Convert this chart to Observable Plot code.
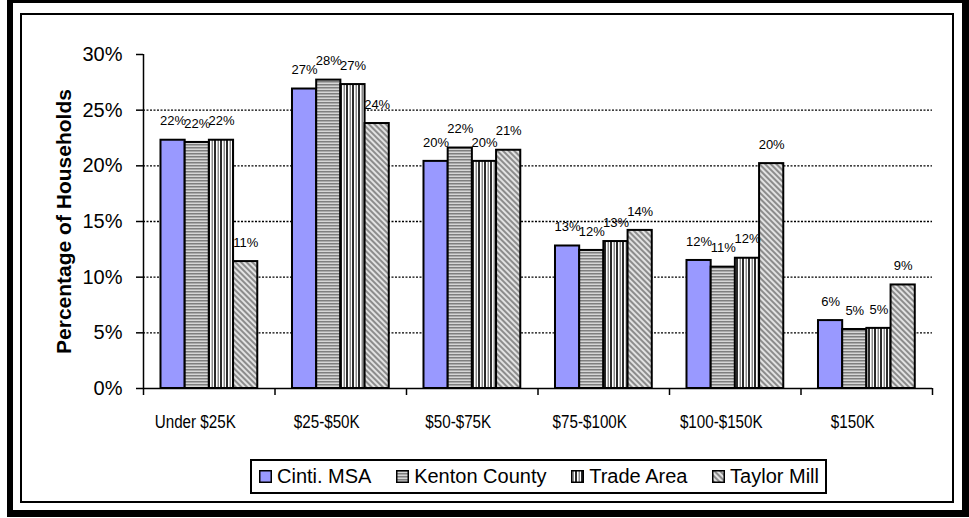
<!DOCTYPE html>
<html><head><meta charset="utf-8">
<script src="https://cdn.jsdelivr.net/npm/d3@7"></script>
<script src="https://cdn.jsdelivr.net/npm/@observablehq/plot@0.6"></script>
<style>
body{margin:0;background:#fff;font-family:Arial,"Liberation Sans",sans-serif;}
#wrap{position:relative;width:969px;height:518px;overflow:hidden;background:#fff;}
#outer{position:absolute;left:7px;top:-1px;width:962px;height:518px;border-style:solid;border-color:#000;border-width:4px 7px 7px 6px;box-sizing:border-box;}
#inner{position:absolute;left:20px;top:13px;width:934px;height:490px;border:2px solid #000;box-sizing:border-box;}
#chart{position:absolute;left:0;top:0;}
#legend{position:absolute;left:250px;top:459px;width:577px;height:35px;border:2px solid #000;box-sizing:border-box;display:flex;align-items:center;justify-content:space-between;padding:0 6px 0 7px;font-size:20px;color:#000;white-space:nowrap;}
#legend .item{display:flex;align-items:center;}
#legend svg{margin-right:5px;}
</style>
</head><body>
<svg width="0" height="0" style="position:absolute">
  <defs>
    <pattern id="pat-kenton" patternUnits="userSpaceOnUse" width="4" height="3">
      <rect width="4" height="3" fill="#d6d6d6"/>
      <rect width="4" height="1.5" fill="#7f7f7f"/>
    </pattern>
    <pattern id="pat-trade" patternUnits="userSpaceOnUse" width="6" height="4">
      <rect width="6" height="4" fill="#ffffff"/>
      <rect x="1.5" width="1.5" height="4" fill="#8a8a8a"/>
      <rect x="4" width="2" height="4" fill="#2a2a2a"/>
    </pattern>
    <pattern id="pat-taylor" patternUnits="userSpaceOnUse" width="4" height="4" patternTransform="rotate(-45)">
      <rect width="4" height="4" fill="#e2e2e2"/>
      <rect width="2" height="4" fill="#8c8c8c"/>
    </pattern>
  </defs>
</svg>
<div id="wrap">
  <div id="outer"></div>
  <div id="inner"></div>
  <div id="chart"></div>
  <div id="legend"></div>
</div>
<script>
const categories = ["Under $25K", "$25-$50K", "$50-$75K", "$75-$100K", "$100-$150K", "$150K"];
const seriesNames = ["Cinti. MSA", "Kenton County", "Trade Area", "Taylor Mill"];
const cintiMSA     = [22.3, 26.9, 20.4, 12.8, 11.5, 6.1];
const kentonCounty = [22.1, 27.7, 21.6, 12.4, 10.9, 5.3];
const tradeArea    = [22.3, 27.3, 20.4, 13.2, 11.7, 5.4];
const taylorMill   = [11.4, 23.8, 21.4, 14.2, 20.2, 9.3];
const yTicks = [0, 5, 10, 15, 20, 25, 30];
const gridValues = [5, 10, 15, 20, 25];
const yTitle = "Percentage of Households";

const seriesValues = [cintiMSA, kentonCounty, tradeArea, taylorMill];
const fills = ["#9999ff", "url(#pat-kenton)", "url(#pat-trade)", "url(#pat-taylor)"];

const GROUP_START = 0.133;
const BAR_W = 0.184;

const rows = [];
categories.forEach((c, ci) => {
  seriesNames.forEach((s, si) => {
    rows.push({category: c, ci, series: s, si, value: seriesValues[si][ci]});
  });
});
const catRows = categories.map((c, ci) => ({category: c, mid: ci + 0.5}));
const boundaries = d3.range(0, categories.length + 1);

const font = 'Arial, "Liberation Sans", sans-serif';

const barMarks = seriesNames.map((s, si) =>
  Plot.rect(rows.filter(d => d.si === si), {
    x1: d => d.ci + GROUP_START + d.si * BAR_W,
    x2: d => d.ci + GROUP_START + (d.si + 1) * BAR_W,
    y1: () => 0,
    y2: "value",
    fill: fills[si],
    stroke: "#000",
    strokeWidth: 2
  })
);

const chart = Plot.plot({
  width: 969,
  height: 450,
  marginLeft: 143,
  marginRight: 37,
  marginTop: 54,
  marginBottom: 62,
  x: {type: "linear", domain: [0, categories.length]},
  y: {type: "linear", domain: [0, 30]},
  style: {fontFamily: font, background: "transparent", color: "#000"},
  marks: [
    Plot.ruleY(gridValues, {stroke: "#000", strokeWidth: 1.3, strokeDasharray: "2,1.5"}),
    ...barMarks,
    Plot.text(rows, {
      x: d => d.ci + GROUP_START + (d.si + 0.5) * BAR_W,
      y: "value",
      text: d => Math.round(d.value) + "%",
      dy: -19,
      fontSize: 13,
      fill: "#000"
    }),
    Plot.ruleX([0], {stroke: "#000", strokeWidth: 1.5}),
    Plot.ruleY([0], {stroke: "#000", strokeWidth: 1.5}),
    Plot.axisX({ticks: boundaries, tickSize: 7, tickFormat: () => "", strokeWidth: 1.5, label: null}),
    Plot.text(catRows, {x: "mid", y: () => 0, text: "category", dy: 33, dx: -14, fontSize: 19, fill: "#000"}),
    Plot.axisY({ticks: yTicks, tickSize: 7, tickPadding: 14, tickFormat: d => d + "%", fontSize: 20, label: null, strokeWidth: 1.5}),
    Plot.text([yTitle], {frameAnchor: "left", dx: -79, rotate: -90, fontWeight: "bold", fontSize: 21, textAnchor: "middle", lineAnchor: "middle", fill: "#000"})
  ]
});
// condense the category labels horizontally, as in the original rendering
chart.querySelectorAll("text").forEach(t => {
  if (!categories.includes(t.textContent)) return;
  const x = t.getAttribute("x"), y = t.getAttribute("y");
  const tr = t.getAttribute("transform") || "";
  if (x !== null && y !== null) {
    t.setAttribute("transform", `${tr} translate(${x},${y}) scale(0.8,1) translate(${-x},${-y})`);
  } else {
    t.setAttribute("transform", `${tr} scale(0.8,1)`);
  }
});
document.getElementById("chart").appendChild(chart);

const legend = document.getElementById("legend");
seriesNames.forEach((s, si) => {
  const item = document.createElement("div");
  item.className = "item";
  item.innerHTML = `<svg width="13" height="13"><rect x="0.75" y="0.75" width="11.5" height="11.5" fill="${fills[si]}" stroke="#000" stroke-width="1.5"/></svg><span>${s}</span>`;
  legend.appendChild(item);
});
</script>
</body></html>
